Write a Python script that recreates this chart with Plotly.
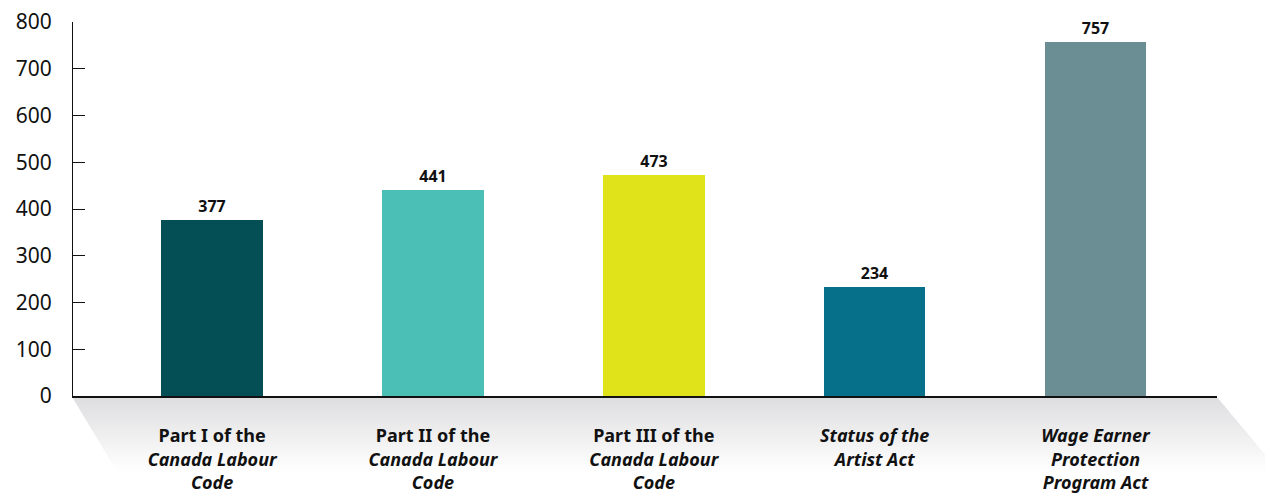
import plotly.graph_objects as go

# Data
categories = [
    "Part I of the<br><i>Canada Labour</i><br><i>Code</i>",
    "Part II of the<br><i>Canada Labour</i><br><i>Code</i>",
    "Part III of the<br><i>Canada Labour</i><br><i>Code</i>",
    "<i>Status of the</i><br><i>Artist Act</i>",
    "<i>Wage Earner</i><br><i>Protection</i><br><i>Program Act</i>",
]
values = [377, 441, 473, 234, 757]
bar_colors = ["#034f55", "#4bbfb6", "#e0e31a", "#066f8a", "#6b8d94"]
y_ticks = [0, 100, 200, 300, 400, 500, 600, 700, 800]

W, H = 1265, 496
ML, MR, MT, MB = 73, 48, 22, 100
PW, PH = W - ML - MR, H - MT - MB

FONT = "Noto Sans"

fig = go.Figure(
    go.Bar(
        x=list(range(len(values))),
        y=values,
        marker=dict(color=bar_colors, line=dict(width=0)),
        width=0.46,
        text=[f"<b>{v}</b>" for v in values],
        textposition="outside",
        textfont=dict(family=FONT, size=16, color="#111"),
        cliponaxis=False,
    )
)


def px_x(p):
    return (p - ML) / PW


def px_y(p):
    return (H - MB - p) / PH


# Perspective floor under the baseline, drawn as stacked strips fading to white
top_y, bot_y = 398, 496
left_top, left_bot = 73, 132
right_top, right_bot = 1218, 1300
n = 40
shapes = []
for i in range(n):
    y0 = top_y + (bot_y - top_y) * i / n
    y1 = top_y + (bot_y - top_y) * (i + 1) / n
    t0 = (y0 - top_y) / (bot_y - top_y)
    t1 = (y1 - top_y) / (bot_y - top_y)
    xl0 = left_top + (left_bot - left_top) * t0
    xl1 = left_top + (left_bot - left_top) * t1
    xr0 = right_top + (right_bot - right_top) * t0
    xr1 = right_top + (right_bot - right_top) * t1
    tm = (t0 + t1) / 2
    f = min(1.0, tm / 0.75)
    g = int(round(222 + (255 - 222) * f))
    gb = int(round(224 + (255 - 224) * f))
    col = f"rgb({g},{g},{gb})"
    path = (
        f"M {px_x(xl0)},{px_y(y0)} L {px_x(xr0)},{px_y(y0)} "
        f"L {px_x(xr1)},{px_y(y1) - 0.002} L {px_x(xl1)},{px_y(y1) - 0.002} Z"
    )
    shapes.append(
        dict(
            type="path", xref="paper", yref="paper", path=path,
            fillcolor=col, line=dict(width=0), layer="below",
        )
    )

fig.update_layout(
    width=W,
    height=H,
    margin=dict(l=ML, r=MR, t=MT, b=MB),
    paper_bgcolor="white",
    plot_bgcolor="rgba(0,0,0,0)",
    showlegend=False,
    shapes=shapes,
    bargap=0,
)

fig.update_xaxes(
    range=[-0.63, 4.55],
    tickvals=list(range(len(values))),
    ticktext=[f"<b>{c}</b>" for c in categories],
    tickfont=dict(family=FONT, size=18, color="#111"),
    showline=True,
    linecolor="#111",
    linewidth=1.5,
    ticks="",
    ticklabelstandoff=23,
    showgrid=False,
    zeroline=False,
    automargin=False,
    fixedrange=True,
)

fig.update_yaxes(
    range=[0, 800],
    tickvals=y_ticks,
    tickfont=dict(family=FONT, size=21, color="#111"),
    showline=True,
    linecolor="#111",
    linewidth=1.2,
    ticks="inside",
    ticklen=12,
    tickcolor="#111",
    tickwidth=1.2,
    ticklabelstandoff=16,
    showgrid=False,
    zeroline=False,
    automargin=False,
    fixedrange=True,
)

fig.write_html("out.html")
